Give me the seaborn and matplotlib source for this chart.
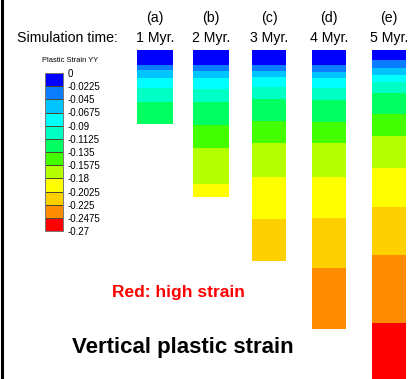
import numpy as np
import matplotlib.pyplot as plt
import seaborn as sns
from matplotlib.colors import ListedColormap
from matplotlib.lines import Line2D

# strain levels of the legend (0 at top, -0.27 at bottom)
level_labels = ["0", "-0.0225", "-0.045", "-0.0675", "-0.09", "-0.1125", "-0.135",
                "-0.1575", "-0.18", "-0.2025", "-0.225", "-0.2475", "-0.27"]
# colours from lowest strain band (top) to highest (bottom)
level_colors = ["#0000ff", "#0a7cff", "#00c4ff", "#00ffff", "#00ffc4", "#00ff60",
                "#44ff00", "#b4ff00", "#ffff00", "#ffd000", "#ff8c00", "#ff0000"]

panels = ["(a)", "(b)", "(c)", "(d)", "(e)"]
times = ["1 Myr.", "2 Myr.", "3 Myr.", "4 Myr.", "5 Myr."]

# depth (px below top of column) where each strain band ends, band k = level k
band_bottoms = [
    [15, 20, 28, 38, 52, 74],
    [15, 21, 28, 39, 52, 75, 98, 134, 147],
    [15, 21, 27, 37, 49, 71, 93, 127, 169, 211],
    [15, 22, 28, 38, 50, 72, 93, 127, 168, 218, 279],
    [10, 18, 25, 32, 43, 64, 86, 118, 157, 205, 273, 345],
]

W, H = 413, 379
col_x = [(137, 173), (193, 229), (252, 286), (312, 346), (372, 406)]
col_top = 50

step = 0.0225
vmin, vmax = -0.27, 0.0
cmap = ListedColormap(level_colors[::-1])


def fig_rect(x0, y0, x1, y1):
    return [x0 / W, 1 - y1 / H, (x1 - x0) / W, (y1 - y0) / H]


fig = plt.figure(figsize=(W / 100, H / 100), dpi=100)
plt.rcParams["font.family"] = ["Liberation Sans", "DejaVu Sans"]

# strain columns
for k, bottoms in enumerate(band_bottoms):
    tops = [0] + bottoms[:-1]
    thick = np.array(bottoms) - np.array(tops)
    vals = -(np.arange(len(bottoms)) + 0.5) * step
    profile = np.repeat(vals, thick).reshape(-1, 1)
    x0, x1 = col_x[k]
    ax = fig.add_axes(fig_rect(x0, col_top, x1, col_top + bottoms[-1]))
    sns.heatmap(profile, ax=ax, cmap=cmap, vmin=vmin, vmax=vmax, cbar=False,
                xticklabels=False, yticklabels=False)
    ax.set_axis_off()
    xc = (x0 + x1) / 2 / W
    fig.text(xc, 1 - 18 / H, panels[k], ha="center", va="center", fontsize=10.2)
    fig.text(xc, 1 - 38 / H, times[k], ha="center", va="center", fontsize=10.2)

fig.text(118 / W, 1 - 38 / H, "Simulation time:", ha="right", va="center", fontsize=10.2)

# legend
lax = fig.add_axes(fig_rect(45, 73, 63, 231))
leg_vals = -(np.arange(12) + 0.5) * step
sns.heatmap(leg_vals.reshape(-1, 1), ax=lax, cmap=cmap, vmin=vmin, vmax=vmax, cbar=False,
            linewidths=0.5, linecolor="#4a4a30", xticklabels=False)
lax.set_yticks(np.arange(13))
lax.set_yticklabels(level_labels, rotation=0, fontsize=7)
lax.yaxis.tick_right()
lax.tick_params(axis="y", length=0, pad=3)
for s in lax.spines.values():
    s.set_visible(True)
    s.set_color("#777777")
    s.set_linewidth(0.7)
fig.text(70 / W, 1 - 61 / H, "Plastic Strain YY", ha="center", va="center", fontsize=5.4)

fig.text(178 / W, 1 - 292 / H, "Red: high strain", ha="center", va="center",
         fontsize=12.5, fontweight="bold", color="#ff0000")
fig.text(183 / W, 1 - 348 / H, "Vertical plastic strain", ha="center", va="center",
         fontsize=16, fontweight="bold", color="black")

# frame edge on the left
fig.add_artist(Line2D([2 / W, 2 / W], [0, 1], color="black", lw=2.2))

fig.savefig("out.png", dpi=100)
